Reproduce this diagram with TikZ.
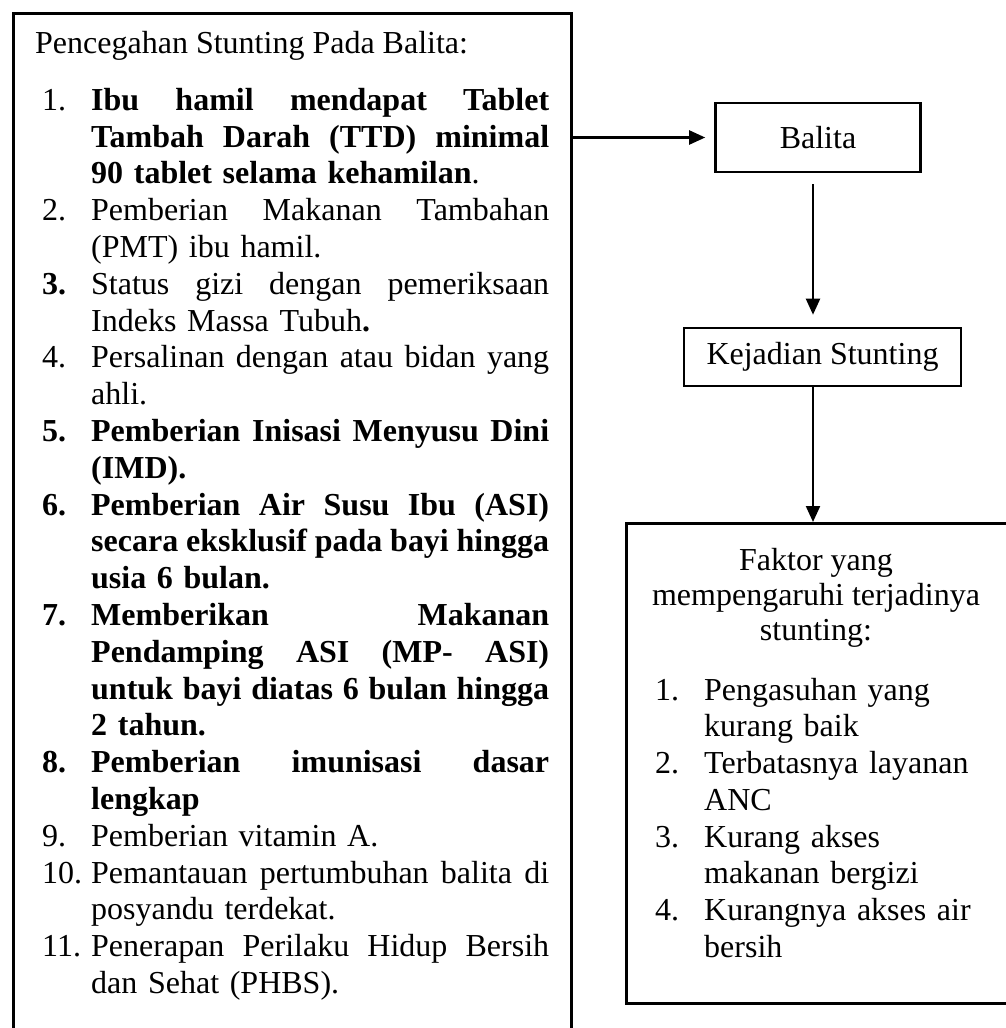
\documentclass[tikz,border=0pt]{standalone}
\usepackage{fontspec}
\setmainfont{Liberation Serif}
\usetikzlibrary{arrows.meta}
\newcommand{\mylbl}[1]{\makebox[49pt][l]{#1}}
\newcommand{\myjust}[1]{\hbox to 458pt{\spaceskip=0pt plus 1fil\relax\xspaceskip=0pt plus 1fil\relax #1}}
\newcommand{\myind}{\hspace*{49pt}}
\begin{document}
\begin{tikzpicture}[x=1pt,y=-1pt,
  box/.style={draw, line width=2.6pt, inner sep=0pt},
  arr/.style={-{Triangle[length=16pt,width=14pt]}, line width=2.2pt},
  txt/.style={inner sep=0pt, font=\fontsize{32pt}{36.8pt}\selectfont},
  txtr/.style={inner sep=0pt, font=\fontsize{32pt}{36.7pt}\selectfont}]
\useasboundingbox (0,0) rectangle (1006,1028);
\fill[white] (0,0) rectangle (1006,1028);
\clip (0,0) rectangle (1006,1028);

% left box
\node[box, anchor=north west, minimum width=558pt, minimum height=1048pt] (lbox) at (12,12) {};
\node[txt, anchor=base west] (ltitle) at (35,53) {Pencegahan Stunting Pada Balita:};
\node[txt, anchor=north west, text width=507pt, align=left] (llist) at (42,80) {%
\rule{0pt}{30pt}\mylbl{1.}\myjust{\bfseries Ibu hamil mendapat Tablet}\\
\myind\myjust{\bfseries Tambah Darah (TTD) minimal}\\
\myind\textbf{90 tablet selama kehamilan}.\\
\mylbl{2.}\myjust{Pemberian Makanan Tambahan}\\
\myind(PMT) ibu hamil.\\
\mylbl{\textbf{3.}}\myjust{Status gizi dengan pemeriksaan}\\
\myind Indeks Massa Tubuh\textbf{.}\\
\mylbl{4.}\myjust{Persalinan dengan atau bidan yang}\\
\myind ahli.\\
\mylbl{\textbf{5.}}\myjust{\bfseries Pemberian Inisasi Menyusu Dini}\\
\myind\textbf{(IMD).}\\
\mylbl{\textbf{6.}}\myjust{\bfseries Pemberian Air Susu Ibu (ASI)}\\
\myind\myjust{\bfseries secara eksklusif pada bayi hingga}\\
\myind\textbf{usia 6 bulan.}\\
\mylbl{\textbf{7.}}\myjust{\bfseries Memberikan Makanan}\\
\myind\myjust{\bfseries Pendamping ASI (MP- ASI)}\\
\myind\myjust{\bfseries untuk bayi diatas 6 bulan hingga}\\
\myind\textbf{2 tahun.}\\
\mylbl{\textbf{8.}}\myjust{\bfseries Pemberian imunisasi dasar}\\
\myind\textbf{lengkap}\\
\mylbl{9.}Pemberian vitamin A.\\
\mylbl{10.}\myjust{Pemantauan pertumbuhan balita di}\\
\myind posyandu terdekat.\\
\mylbl{11.}\myjust{Penerapan Perilaku Hidup Bersih}\\
\myind dan Sehat (PHBS).};

% right column
\node[box, txt, minimum width=205pt, minimum height=69pt] (balita) at (818,137.5) {Balita};
\node[box, txt, minimum width=277pt, minimum height=58pt] (kej) at (822.5,357) {Kejadian Stunting};
\node[box, anchor=north west, minimum width=383pt, minimum height=480pt] (fbox) at (625,522) {};
\node[txtr, anchor=north, align=center, font=\fontsize{32pt}{35pt}\selectfont] (ftitle) at (816,540) {\rule{0pt}{30pt}Faktor yang\\mempengaruhi terjadinya\\stunting:};
\node[txtr, anchor=north west, text width=340pt, align=left] (flist) at (655,670) {%
\rule{0pt}{30pt}\mylbl{1.}Pengasuhan yang\\
\myind kurang baik\\
\mylbl{2.}Terbatasnya layanan\\
\myind ANC\\
\mylbl{3.}Kurang akses\\
\myind makanan bergizi\\
\mylbl{4.}Kurangnya akses air\\
\myind bersih};

% connectors
\coordinate (ax) at (813,0);
\draw[arr, shorten >=9pt] (lbox.east |- balita.west) -- (balita.west);
\draw[arr, shorten <=11pt, shorten >=12pt] (balita.south -| ax) -- (kej.north -| ax);
\draw[arr] (kej.south -| ax) -- (fbox.north -| ax);
\end{tikzpicture}
\end{document}
